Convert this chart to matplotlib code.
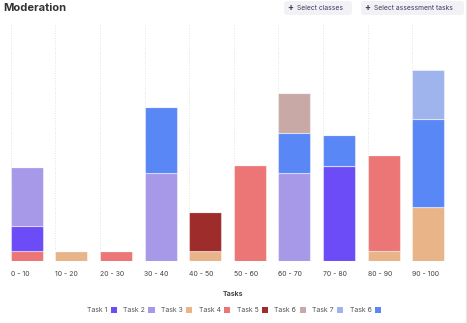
import matplotlib.pyplot as plt
from matplotlib.patches import FancyBboxPatch, Patch
from matplotlib.lines import Line2D

plt.rcParams["font.family"] = ["Inter", "DejaVu Sans"]

bins = ["0 - 10", "10 - 20", "20 - 30", "30 - 40", "40 - 50",
        "50 - 60", "60 - 70", "70 - 80", "80 - 90", "90 - 100"]

# stacked bottom -> top
task3 = [0, 10, 0, 0, 10, 0, 0, 0, 10, 54]
task4 = [10, 0, 10, 0, 0, 96, 0, 0, 96, 0]
task1 = [25, 0, 0, 0, 0, 0, 0, 95, 0, 0]
task2 = [59, 0, 0, 88, 0, 0, 88, 0, 0, 0]
task5 = [0, 0, 0, 0, 39, 0, 0, 0, 0, 0]
task6b = [0, 0, 0, 66, 0, 0, 40, 31, 0, 88]
task6 = [0, 0, 0, 0, 0, 0, 40, 0, 0, 0]
task7 = [0, 0, 0, 0, 0, 0, 0, 0, 0, 49]

legend_labels = ["Task 1", "Task 2", "Task 3", "Task 4", "Task 5",
                 "Task 6", "Task 7", "Task 6"]

colors = {
    "task1": "#6b4cf6",
    "task2": "#a898e8",
    "task3": "#e8b488",
    "task4": "#eb7675",
    "task5": "#9d2c2a",
    "task6": "#c9a9a6",
    "task7": "#9fb3ec",
    "task6b": "#5a87f6",
}

W, H = 467, 323
fig = plt.figure(figsize=(W / 100, H / 100), dpi=100)

left, right, base, top = 10.7, 466, 261, 25
ax = fig.add_axes([left / W, (H - base) / H, (right - left) / W, (base - top) / H])
step = 44.6
ax.set_xlim(0, (right - left) / step)
ax.set_ylim(0, base - top)

stack = [("task3", task3), ("task4", task4), ("task1", task1), ("task2", task2),
         ("task5", task5), ("task6b", task6b), ("task6", task6), ("task7", task7)]
x = list(range(len(bins)))
bottom = [0] * len(bins)
for key, vals in stack:
    ax.bar(x, vals, width=0.72, bottom=bottom, align="edge",
           color=colors[key], edgecolor=(1, 1, 1, 0.45), linewidth=0.8, zorder=3)
    bottom = [b + v for b, v in zip(bottom, vals)]

for xi in x:
    ax.axvline(xi, color="#d9d9d9", linestyle=(0, (1, 2)), linewidth=0.6, zorder=1)

ax.set_xticks(x)
ax.set_xticklabels(bins, ha="left", fontsize=5, color="#444444")
ax.tick_params(axis="x", length=0, pad=7)
ax.set_yticks([])
for s in ax.spines.values():
    s.set_visible(False)

fig.text(3 / W, 1 - 8 / H, "Moderation", fontsize=8, fontweight="bold",
         color="#333333", va="center", ha="left")

# buttons
for x0, x1, label in [(284, 352, "Select classes"), (361, 464, "Select assessment tasks")]:
    fig.patches.append(FancyBboxPatch((x0 / W, 1 - 15 / H), (x1 - x0) / W, 14 / H,
                                      boxstyle="round,pad=0,rounding_size=0.008",
                                      transform=fig.transFigure, facecolor="#f1f1f6",
                                      edgecolor="none"))
    fig.text((x0 + 6) / W, 1 - 8 / H, "+", fontsize=6.5, color="#3a3a5c",
             va="center", ha="center", fontweight="bold")
    fig.text((x0 + 13) / W, 1 - 8 / H, label, fontsize=4.8, color="#3a3a5c",
             va="center", ha="left")

fig.lines.append(Line2D([465.5 / W, 465.5 / W], [0, 1], transform=fig.transFigure,
                        color="#e6e6e6", linewidth=0.8))

fig.text(233 / W, 1 - 294 / H, "Tasks", fontsize=5, fontweight="bold",
         color="#444444", ha="center", va="center")

order = ["task1", "task2", "task3", "task4", "task5", "task6", "task7", "task6b"]
handles = [Patch(facecolor=colors[k], edgecolor="none") for k in order]
fig.legend(handles, legend_labels, loc="center", bbox_to_anchor=(234 / W, 1 - 310 / H),
           ncol=8, frameon=False, markerfirst=False, fontsize=5, labelcolor="#555555",
           handlelength=0.9, handleheight=0.9, handletextpad=0.5, columnspacing=0.9)

fig.savefig("out.png", dpi=100)
